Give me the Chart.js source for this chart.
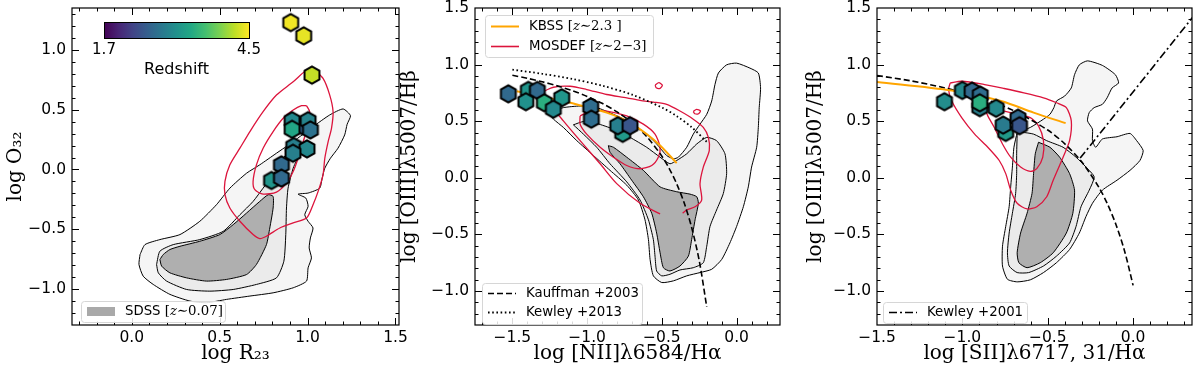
<!DOCTYPE html>
<html>
<head>
<meta charset="utf-8">
<script src="https://cdn.jsdelivr.net/npm/chart.js@4.4.1/dist/chart.umd.min.js"></script>
<style>
    html, body { margin: 0; padding: 0; background: #fff; }
    #fig { position: relative; width: 1200px; height: 380px; }
    .panel { position: absolute; top: 0; height: 380px; }
</style>
</head>
<body>
<div id="fig">
    <div class="panel" style="left:0px;width:410px"><canvas id="c1" width="410" height="380"></canvas></div>
    <div class="panel" style="left:398px;width:392px"><canvas id="c2" width="392" height="380"></canvas></div>
    <div class="panel" style="left:790px;width:410px"><canvas id="c3" width="410" height="380"></canvas></div>
</div>
<script>
// ---- redshift colour scale ----
const zMin = 1.7;
const zMax = 4.5;
const cbarTicks = [1.7, 4.5];
const cbarLabel = 'Redshift';

// ---- tick labels ----
const p1XTicks = [0.0, 0.5, 1.0, 1.5];
const p1YTicks = [-1.0, -0.5, 0.0, 0.5, 1.0];
const p2XTicks = [-1.5, -1.0, -0.5, 0.0];
const p2YTicks = [-1.0, -0.5, 0.0, 0.5, 1.0, 1.5];
const p3XTicks = [-1.5, -1.0, -0.5, 0.0];
const p3YTicks = [-1.0, -0.5, 0.0, 0.5, 1.0, 1.5];

// ---- panel 1: R23 vs O32 ----
const p1GalR23 = [0.904, 0.978, 1.025, 0.970, 0.912, 1.003, 0.912, 1.016, 0.921, 0.997, 0.917, 0.851, 0.795, 0.851];
const p1GalO32 = [1.228, 1.117, 0.789, 0.367, 0.408, 0.408, 0.336, 0.331, 0.192, 0.172, 0.136, 0.039, -0.092, -0.072];
const p1GalZ   = [4.45, 4.4, 4.25, 2.6, 3.0, 2.95, 3.35, 2.75, 2.9, 3.0, 2.9, 2.65, 3.15, 2.65];

const p1SdssOuter = [[0.047,-0.711],[0.075,-0.628],[0.160,-0.586],[0.274,-0.544],[0.387,-0.433],[0.482,-0.294],
    [0.558,-0.156],[0.653,-0.031],[0.728,0.039],[0.823,0.136],[0.918,0.233],[1.031,0.358],[1.126,0.456],[1.202,0.506],
    [1.244,0.450],[1.225,0.378],[1.211,0.289],[1.173,0.178],[1.130,0.094],[1.098,0.011],[1.083,-0.072],[1.069,-0.156],
    [1.003,-0.197],[0.946,-0.206],[0.990,-0.239],[1.003,-0.308],[0.984,-0.378],[1.003,-0.433],[1.031,-0.489],
    [1.016,-0.572],[1.009,-0.656],[1.022,-0.739],[1.003,-0.822],[0.994,-0.933],[0.918,-0.989],[0.804,-1.031],
    [0.672,-1.058],[0.539,-1.086],[0.425,-1.114],[0.331,-1.100],[0.217,-1.044],[0.122,-0.961],[0.065,-0.892],[0.041,-0.794]];
const p1SdssMid = [[0.141,-0.794],[0.160,-0.683],[0.236,-0.628],[0.387,-0.586],[0.520,-0.517],[0.615,-0.378],
    [0.690,-0.267],[0.747,-0.156],[0.804,-0.044],[0.861,0.094],[0.918,0.178],[0.956,0.150],[0.918,0.011],[0.889,-0.156],
    [0.880,-0.322],[0.876,-0.544],[0.865,-0.767],[0.823,-0.906],[0.709,-0.961],[0.577,-1.003],[0.444,-1.017],
    [0.312,-1.003],[0.198,-0.933],[0.151,-0.864]];
const p1SdssInner = [[0.160,-0.753],[0.179,-0.711],[0.217,-0.669],[0.274,-0.642],[0.387,-0.600],[0.501,-0.544],
    [0.577,-0.461],[0.653,-0.364],[0.728,-0.267],[0.776,-0.211],[0.804,-0.225],[0.804,-0.322],[0.785,-0.489],
    [0.766,-0.628],[0.709,-0.794],[0.653,-0.878],[0.539,-0.919],[0.425,-0.933],[0.312,-0.906],[0.217,-0.864],[0.170,-0.808]];
const p1MosdefOuter = [[1.031,0.844],[1.088,0.761],[1.126,0.622],[1.145,0.483],[1.136,0.344],[1.117,0.233],[1.098,0.094],
    [1.088,-0.044],[1.060,-0.183],[1.031,-0.294],[0.994,-0.406],[0.918,-0.447],[0.842,-0.489],[0.766,-0.558],
    [0.728,-0.578],[0.690,-0.544],[0.615,-0.433],[0.558,-0.322],[0.530,-0.211],[0.530,-0.100],[0.558,0.039],
    [0.615,0.178],[0.672,0.317],[0.747,0.483],[0.823,0.622],[0.918,0.733],[0.994,0.831]];
const p1MosdefInner = [[0.994,0.533],[1.012,0.483],[1.003,0.372],[0.975,0.233],[0.946,0.094],[0.918,-0.017],
    [0.880,-0.114],[0.823,-0.189],[0.747,-0.206],[0.700,-0.169],[0.690,-0.100],[0.709,0.039],[0.747,0.178],
    [0.804,0.317],[0.861,0.428],[0.918,0.497],[0.965,0.533]];

// ---- panel 2: [NII] BPT ----
const p2GalN2 = [-1.527, -1.393, -1.333, -1.410, -1.286, -1.170, -1.226, -0.976, -0.972, -0.762, -0.795, -0.713];
const p2GalO3 = [0.742, 0.772, 0.772, 0.672, 0.663, 0.707, 0.606, 0.626, 0.518, 0.393, 0.460, 0.460];
const p2GalZ  = [2.65, 3.15, 2.65, 3.1, 3.45, 3.15, 3.0, 2.7, 2.7, 3.2, 2.9, 2.45];

const kauffX = [-1.5, -1.4, -1.3, -1.2, -1.1, -1.0, -0.9, -0.8, -0.7, -0.6, -0.5, -0.45, -0.4, -0.35, -0.3, -0.25, -0.2];
const kauffY = [0.906, 0.879, 0.848, 0.812, 0.770, 0.719, 0.658, 0.582, 0.487, 0.362, 0.191, 0.080, -0.056, -0.225, -0.443, -0.733, -1.140];
const kew13X = [-1.5, -1.3, -1.1, -0.9, -0.7, -0.5, -0.4, -0.3, -0.2];
const kew13Y = [0.955, 0.919, 0.873, 0.814, 0.735, 0.621, 0.544, 0.446, 0.318];
const kbssN2X = [-1.471, -1.315, -1.159, -1.003, -0.869, -0.735, -0.602, -0.512, -0.401];
const kbssN2Y = [0.765, 0.722, 0.678, 0.625, 0.576, 0.503, 0.387, 0.285, 0.130];

const p2SdssOuter = [[-1.259,0.576],[-1.159,0.620],[-1.047,0.634],[-0.936,0.620],[-0.824,0.561],[-0.713,0.488],
    [-0.602,0.386],[-0.535,0.299],[-0.468,0.197],[-0.423,0.168],[-0.390,0.182],[-0.334,0.270],[-0.290,0.386],
    [-0.245,0.474],[-0.200,0.561],[-0.167,0.678],[-0.145,0.824],[-0.122,0.926],[-0.067,0.998],[0.000,1.013],
    [0.089,0.969],[0.145,0.926],[0.160,0.794],[0.151,0.620],[0.145,0.445],[0.134,0.270],[0.100,0.095],[0.078,-0.080],
    [0.045,-0.255],[0.000,-0.429],[-0.045,-0.575],[-0.100,-0.721],[-0.167,-0.808],[-0.245,-0.837],[-0.334,-0.866],
    [-0.423,-0.910],[-0.501,-0.925],[-0.557,-0.866],[-0.579,-0.721],[-0.590,-0.546],[-0.613,-0.371],[-0.657,-0.196],
    [-0.735,-0.065],[-0.847,0.066],[-0.958,0.197],[-1.069,0.328],[-1.159,0.445],[-1.225,0.518]];
const p2SdssMid = [[-1.092,0.468],[-1.025,0.497],[-0.936,0.480],[-0.824,0.430],[-0.713,0.357],[-0.602,0.270],
    [-0.512,0.182],[-0.446,0.124],[-0.401,0.153],[-0.334,0.212],[-0.267,0.299],[-0.200,0.357],[-0.134,0.328],
    [-0.078,0.212],[-0.067,0.037],[-0.089,-0.138],[-0.134,-0.284],[-0.178,-0.429],[-0.200,-0.604],[-0.223,-0.750],
    [-0.290,-0.794],[-0.379,-0.814],[-0.446,-0.852],[-0.501,-0.866],[-0.535,-0.823],[-0.546,-0.692],[-0.557,-0.546],
    [-0.590,-0.371],[-0.646,-0.196],[-0.735,-0.036],[-0.847,0.124],[-0.936,0.270],[-1.025,0.386]];
const p2SdssInner = [[-0.858,0.284],[-0.824,0.270],[-0.735,0.182],[-0.624,0.066],[-0.512,-0.080],[-0.401,-0.123],
    [-0.312,-0.144],[-0.267,-0.167],[-0.256,-0.225],[-0.278,-0.371],[-0.301,-0.546],[-0.323,-0.692],[-0.379,-0.779],
    [-0.446,-0.823],[-0.490,-0.794],[-0.512,-0.662],[-0.535,-0.488],[-0.568,-0.313],[-0.624,-0.167],[-0.702,-0.021],
    [-0.780,0.124],[-0.847,0.226]];
const p2MosdefOuter = [[-0.512,-0.319],[-0.646,-0.225],[-0.802,-0.051],[-0.913,0.124],[-1.047,0.328],[-1.159,0.503],
    [-1.248,0.649],[-1.292,0.751],[-1.225,0.800],[-1.114,0.809],[-1.003,0.780],[-0.869,0.736],[-0.735,0.707],
    [-0.646,0.684],[-0.557,0.669],[-0.468,0.649],[-0.379,0.590],[-0.290,0.518],[-0.223,0.445],[-0.189,0.357],
    [-0.183,0.241],[-0.223,0.095],[-0.245,-0.051],[-0.234,-0.196],[-0.278,-0.255],[-0.334,-0.284],[-0.361,-0.313]];
const p2MosdefInner = [[-1.047,0.547],[-0.980,0.590],[-0.869,0.590],[-0.735,0.547],[-0.624,0.474],[-0.546,0.386],
    [-0.512,0.270],[-0.524,0.182],[-0.568,0.109],[-0.646,0.080],[-0.735,0.109],[-0.824,0.182],[-0.913,0.270],
    [-1.003,0.386],[-1.047,0.474]];
const p2MosdefIslandA = [[-0.545,0.820],[-0.520,0.840],[-0.497,0.818],[-0.512,0.790],[-0.538,0.795]];
const p2MosdefIslandB = [[-0.290,0.585],[-0.268,0.605],[-0.242,0.592],[-0.255,0.566],[-0.280,0.566]];

// ---- panel 3: [SII] BPT ----
const p3GalS2 = [-1.105, -1.000, -0.943, -0.895, -0.898, -0.898, -0.802, -0.746, -0.761, -0.674, -0.665];
const p3GalO3 = [0.672, 0.772, 0.766, 0.731, 0.620, 0.663, 0.614, 0.401, 0.466, 0.527, 0.460];
const p3GalZ  = [3.05, 3.0, 2.65, 2.7, 2.9, 3.45, 3.0, 3.2, 2.85, 2.65, 2.45];

const kew01S2X = [-1.5, -1.3, -1.1, -0.9, -0.7, -0.5, -0.4, -0.3, -0.2, -0.15, -0.1, -0.05, 0.0];
const kew01S2Y = [0.904, 0.856, 0.793, 0.710, 0.594, 0.422, 0.300, 0.139, -0.085, -0.232, -0.414, -0.646, -0.950];
const linerX = [-0.31, 0.35];
const linerY = [0.174, 1.42];
const kbssS2X = [-1.5, -1.062, -0.774, -0.583, -0.395];
const kbssS2Y = [0.847, 0.771, 0.678, 0.576, 0.483];

const p3SdssOuter = [[-0.679,0.401],[-0.602,0.445],[-0.525,0.518],[-0.487,0.561],[-0.464,0.620],[-0.449,0.678],
    [-0.401,0.722],[-0.362,0.794],[-0.343,0.911],[-0.315,0.998],[-0.267,1.033],[-0.180,0.993],[-0.104,0.911],
    [-0.085,0.838],[-0.123,0.794],[-0.152,0.707],[-0.180,0.649],[-0.228,0.620],[-0.257,0.576],[-0.267,0.503],
    [-0.238,0.430],[-0.238,0.328],[-0.219,0.270],[-0.180,0.343],[-0.094,0.363],[-0.018,0.392],[0.021,0.328],
    [0.059,0.241],[0.040,0.153],[-0.018,0.066],[-0.094,-0.021],[-0.180,-0.109],[-0.238,-0.225],[-0.276,-0.342],
    [-0.315,-0.488],[-0.372,-0.633],[-0.449,-0.750],[-0.525,-0.837],[-0.602,-0.901],[-0.679,-0.919],[-0.736,-0.896],
    [-0.765,-0.779],[-0.765,-0.604],[-0.746,-0.429],[-0.726,-0.255],[-0.717,-0.080],[-0.707,0.095],[-0.698,0.270]];
const p3SdssMid = [[-0.679,0.386],[-0.650,0.401],[-0.583,0.386],[-0.506,0.328],[-0.410,0.270],[-0.334,0.182],
    [-0.276,0.095],[-0.228,0.008],[-0.257,-0.109],[-0.305,-0.255],[-0.334,-0.429],[-0.372,-0.575],[-0.449,-0.692],
    [-0.525,-0.779],[-0.612,-0.837],[-0.679,-0.837],[-0.726,-0.779],[-0.736,-0.662],[-0.726,-0.488],[-0.707,-0.313],
    [-0.688,-0.138],[-0.682,0.037],[-0.682,0.212]];
const p3SdssInner = [[-0.554,0.314],[-0.487,0.270],[-0.430,0.182],[-0.372,0.037],[-0.343,-0.109],[-0.353,-0.313],
    [-0.391,-0.488],[-0.468,-0.662],[-0.544,-0.750],[-0.621,-0.794],[-0.669,-0.750],[-0.679,-0.662],[-0.659,-0.488],
    [-0.621,-0.313],[-0.592,-0.138],[-0.583,0.037],[-0.573,0.212]];
const p3MosdefOuter = [[-1.071,0.838],[-1.004,0.853],[-0.870,0.824],[-0.755,0.789],[-0.640,0.751],[-0.525,0.707],
    [-0.449,0.663],[-0.391,0.620],[-0.362,0.503],[-0.372,0.328],[-0.410,0.182],[-0.468,-0.021],[-0.506,-0.167],
    [-0.564,-0.255],[-0.621,-0.275],[-0.679,-0.225],[-0.717,-0.109],[-0.746,0.037],[-0.784,0.153],[-0.851,0.270],
    [-0.928,0.386],[-1.004,0.532],[-1.062,0.678],[-1.081,0.780]];
const p3MosdefInner = [[-0.870,0.620],[-0.832,0.620],[-0.755,0.590],[-0.679,0.561],[-0.602,0.532],[-0.554,0.459],
    [-0.525,0.328],[-0.529,0.182],[-0.564,0.081],[-0.602,0.057],[-0.659,0.095],[-0.717,0.182],[-0.765,0.299],
    [-0.813,0.445],[-0.851,0.547]];

// ---- styles ----
const SDSS_OUT = '#f5f5f5';
const SDSS_MID = '#ebebeb';
const SDSS_IN = '#afafaf';
const RED = '#dc143c';
const ORANGE = '#ffa500';
const VIRIDIS = ['#440154', '#482475', '#414487', '#355f8d', '#2a788e', '#21918c',
                 '#22a884', '#44bf70', '#7ad151', '#bddf26', '#fde725'];

function hexToRgb(h) {
    return [1, 3, 5].map(i => parseInt(h.substr(i, 2), 16));
}

function viridis(z) {
    let t = (z - zMin) / (zMax - zMin);
    t = Math.min(1, Math.max(0, t)) * (VIRIDIS.length - 1);
    const i = Math.min(Math.floor(t), VIRIDIS.length - 2);
    const f = t - i;
    const a = hexToRgb(VIRIDIS[i]), b = hexToRgb(VIRIDIS[i + 1]);
    const c = a.map((v, k) => Math.round(v + (b[k] - v) * f));
    return `rgb(${c[0]},${c[1]},${c[2]})`;
}

// hexagon marker (matplotlib 'h'), drawn once per colour
function hexImage(color) {
    const size = 24, r = 8.6, c = document.createElement('canvas');
    c.width = c.height = size;
    const g = c.getContext('2d');
    g.beginPath();
    for (let i = 0; i < 6; i++) {
        const a = Math.PI / 2 + i * Math.PI / 3;
        const px = size / 2 + r * Math.cos(a), py = size / 2 - r * Math.sin(a);
        if (i === 0) g.moveTo(px, py); else g.lineTo(px, py);
    }
    g.closePath();
    g.fillStyle = color;
    g.fill();
    g.lineWidth = 2;
    g.lineJoin = 'miter';
    g.strokeStyle = '#000';
    g.stroke();
    return c;
}

const toPts = arr => arr.map(p => ({x: p[0], y: p[1]}));
const closed = arr => toPts(arr.concat([arr[0]]));
const zipPts = (xs, ys) => xs.map((x, i) => ({x: x, y: ys[i]}));

function contour(arr, fillColor, order) {
    return {
        type: 'line', data: closed(arr), borderColor: '#000', borderWidth: 1,
        backgroundColor: fillColor, fill: 'shape', pointRadius: 0, tension: 0.2, order: order
    };
}

function redContour(arr, isClosed, order) {
    return {
        type: 'line', data: isClosed ? closed(arr) : toPts(arr), borderColor: RED, borderWidth: 1.3,
        fill: false, pointRadius: 0, tension: 0.25, order: order
    };
}

function curve(xs, ys, color, width, dash, order) {
    return {
        type: 'line', data: zipPts(xs, ys), borderColor: color, borderWidth: width,
        borderDash: dash, fill: false, pointRadius: 0, tension: 0.3, order: order
    };
}

function galaxies(xs, ys, zs) {
    const imgs = zs.map(z => hexImage(viridis(z)));
    return {
        type: 'scatter', data: zipPts(xs, ys), pointStyle: ctx => imgs[ctx.dataIndex],
        pointRadius: 8, borderWidth: 0, order: 0
    };
}

function steps(r) {
    const out = [];
    for (let v = r.from; v <= r.to + 1e-9; v += r.step) out.push(Math.round(v * 100) / 100);
    return out;
}

const fmtTick = v => v.toFixed(1).replace('-', '\u2212');

// inward ticks on all four sides + frame
const frameTicks = {
    id: 'frameTicks',
    afterDatasetsDraw(chart, args, o) {
        const {ctx, chartArea: a} = chart;
        const sx = chart.scales.x, sy = chart.scales.y;
        ctx.save();
        ctx.strokeStyle = '#000';
        ctx.lineWidth = 1;
        ctx.beginPath();
        const markX = (v, len) => {
            const p = Math.round(sx.getPixelForValue(v)) + 0.5;
            if (p <= a.left + 1 || p >= a.right - 1) return;
            ctx.moveTo(p, a.bottom); ctx.lineTo(p, a.bottom - len);
            ctx.moveTo(p, a.top); ctx.lineTo(p, a.top + len);
        };
        const markY = (v, len) => {
            const p = Math.round(sy.getPixelForValue(v)) + 0.5;
            if (p <= a.top + 1 || p >= a.bottom - 1) return;
            ctx.moveTo(a.left, p); ctx.lineTo(a.left + len, p);
            ctx.moveTo(a.right, p); ctx.lineTo(a.right - len, p);
        };
        steps(o.xMinor).forEach(v => markX(v, 3.5));
        o.xMajor.forEach(v => markX(v, 7));
        steps(o.yMinor).forEach(v => markY(v, 3.5));
        o.yMajor.forEach(v => markY(v, 7));
        ctx.stroke();
        ctx.lineWidth = 1.2;
        ctx.strokeRect(a.left, a.top, a.right - a.left, a.bottom - a.top);
        ctx.restore();
    }
};

const FONT = {
    s: '13.3px "DejaVu Sans"',
    m: '13.3px "DejaVu Serif"',
    i: 'italic 13.3px "DejaVu Serif"'
};

function drawRich(ctx, segs, x, y) {
    ctx.textBaseline = 'middle';
    ctx.textAlign = 'left';
    ctx.fillStyle = '#000';
    segs.forEach(([t, f]) => {
        ctx.font = FONT[f];
        ctx.fillText(t, x, y);
        x += ctx.measureText(t).width;
    });
}

function roundRect(ctx, x, y, w, h, r) {
    ctx.beginPath();
    ctx.moveTo(x + r, y);
    ctx.arcTo(x + w, y, x + w, y + h, r);
    ctx.arcTo(x + w, y + h, x, y + h, r);
    ctx.arcTo(x, y + h, x, y, r);
    ctx.arcTo(x, y, x + w, y, r);
    ctx.closePath();
}

// legends boxed inside the axes, plus the colour bar
const boxLegends = {
    id: 'boxLegends',
    afterDraw(chart, args, o) {
        const ctx = chart.ctx;
        ctx.save();
        (o.boxes || []).forEach(b => {
            roundRect(ctx, b.x + 0.5, b.y + 0.5, b.w, b.h, 3);
            ctx.fillStyle = 'rgba(255,255,255,0.85)';
            ctx.fill();
            ctx.strokeStyle = '#d6d6d6';
            ctx.lineWidth = 1;
            ctx.stroke();
            b.items.forEach((it, k) => {
                const yy = b.y + b.first + k * b.gap;
                const x0 = b.x + 6;
                if (it.patch) {
                    ctx.fillStyle = it.patch;
                    ctx.fillRect(x0, yy - 4.5, 28, 9);
                } else {
                    ctx.beginPath();
                    ctx.strokeStyle = it.color;
                    ctx.lineWidth = it.width;
                    ctx.setLineDash(it.dash || []);
                    ctx.moveTo(x0, yy);
                    ctx.lineTo(x0 + 28, yy);
                    ctx.stroke();
                    ctx.setLineDash([]);
                }
                drawRich(ctx, it.segs, x0 + 38, yy);
            });
        });
        const cb = o.colorbar;
        if (cb) {
            const g = ctx.createLinearGradient(cb.x, 0, cb.x + cb.w, 0);
            VIRIDIS.forEach((c, i) => g.addColorStop(i / (VIRIDIS.length - 1), c));
            ctx.fillStyle = g;
            ctx.fillRect(cb.x, cb.y, cb.w, cb.h);
            ctx.strokeStyle = '#000';
            ctx.lineWidth = 1;
            ctx.strokeRect(cb.x + 0.5, cb.y + 0.5, cb.w, cb.h);
            ctx.fillStyle = '#000';
            ctx.textAlign = 'center';
            ctx.textBaseline = 'middle';
            ctx.font = '15px "DejaVu Sans"';
            cbarTicks.forEach(t => {
                const px = cb.x + (t - zMin) / (zMax - zMin) * cb.w;
                ctx.fillText(t.toFixed(1), px, cb.y + cb.h + 12);
            });
            ctx.font = '16px "DejaVu Sans"';
            ctx.fillText(cbarLabel, cb.x + cb.w / 2, cb.y + cb.h + 32);
        }
        ctx.restore();
    }
};

function makePanel(id, p) {
    return new Chart(document.getElementById(id), {
        type: 'scatter',
        data: {datasets: p.datasets},
        plugins: [frameTicks, boxLegends],
        options: {
            responsive: false,
            animation: false,
            events: [],
            layout: {padding: {top: 6, right: p.padRight, left: 0, bottom: 0}},
            plugins: {
                legend: {display: false},
                tooltip: {enabled: false},
                frameTicks: p.ticks,
                boxLegends: {boxes: p.boxes, colorbar: p.colorbar}
            },
            scales: {
                x: {
                    type: 'linear', min: p.xMin, max: p.xMax,
                    grid: {display: false, drawTicks: false}, border: {display: false},
                    afterBuildTicks: s => { s.ticks = p.ticks.xMajor.map(v => ({value: v})); },
                    afterFit: s => { s.height = 55; s.paddingLeft = 0; s.paddingRight = 0; },
                    ticks: {
                        callback: fmtTick, autoSkip: false, maxRotation: 0, padding: 4, color: '#000',
                        font: {family: 'DejaVu Sans', size: 15.5}
                    },
                    title: {
                        display: true, text: p.xTitle, color: '#000',
                        font: {family: 'DejaVu Serif', size: 20}, padding: {top: 0, bottom: 14}
                    }
                },
                y: {
                    type: 'linear', min: p.yMin, max: p.yMax,
                    grid: {display: false, drawTicks: false}, border: {display: false},
                    afterBuildTicks: s => { s.ticks = p.ticks.yMajor.map(v => ({value: v})); },
                    afterFit: s => { s.width = p.yWidth; s.paddingTop = 0; s.paddingBottom = 0; },
                    ticks: {
                        callback: fmtTick, autoSkip: false, padding: 6, color: '#000',
                        font: {family: 'DejaVu Sans', size: 15.5}
                    },
                    title: {
                        display: true, text: p.yTitle, color: '#000',
                        font: {family: 'DejaVu Serif', size: 20}, padding: {top: p.yTitlePad, bottom: 0}
                    }
                }
            }
        }
    });
}

// panel 1
makePanel('c1', {
    xMin: -0.34, xMax: 1.52, yMin: -1.3, yMax: 1.35,
    yWidth: 72, padRight: 11, yTitlePad: 4,
    xTitle: 'log R\u2082\u2083', yTitle: 'log O\u2083\u2082',
    ticks: {xMajor: p1XTicks, yMajor: p1YTicks, xMinor: {from: -0.3, to: 1.5, step: 0.1}, yMinor: {from: -1.3, to: 1.3, step: 0.1}},
    datasets: [
        galaxies(p1GalR23, p1GalO32, p1GalZ),
        redContour(p1MosdefOuter, true, 5),
        redContour(p1MosdefInner, true, 5),
        contour(p1SdssInner, SDSS_IN, 8),
        contour(p1SdssMid, SDSS_MID, 9),
        contour(p1SdssOuter, SDSS_OUT, 10)
    ],
    boxes: [
        {x: 81, y: 301, w: 144, h: 21, first: 10.5, gap: 0, items: [
            {patch: '#a9a9a9', segs: [['SDSS ', 's'], ['[', 'm'], ['z', 'i'], ['\u223c0.07]', 'm']]}
        ]}
    ],
    colorbar: {x: 104, y: 22, w: 145, h: 16}
});

// panel 2
makePanel('c2', {
    xMin: -1.75, xMax: 0.29, yMin: -1.3, yMax: 1.5,
    yWidth: 77, padRight: 10, yTitlePad: 0,
    xTitle: 'log [NII]\u03bb6584/H\u03b1', yTitle: 'log [OIII]\u03bb5007/H\u03b2',
    ticks: {xMajor: p2XTicks, yMajor: p2YTicks, xMinor: {from: -1.7, to: 0.2, step: 0.1}, yMinor: {from: -1.2, to: 1.4, step: 0.1}},
    datasets: [
        galaxies(p2GalN2, p2GalO3, p2GalZ),
        curve(kbssN2X, kbssN2Y, ORANGE, 2, [], 2),
        curve(kauffX, kauffY, '#000', 1.6, [6, 3], 3),
        curve(kew13X, kew13Y, '#000', 1.8, [1.6, 2.6], 3),
        redContour(p2MosdefOuter, false, 5),
        redContour(p2MosdefInner, true, 5),
        redContour(p2MosdefIslandA, true, 5),
        redContour(p2MosdefIslandB, true, 5),
        contour(p2SdssInner, SDSS_IN, 8),
        contour(p2SdssMid, SDSS_MID, 9),
        contour(p2SdssOuter, SDSS_OUT, 10)
    ],
    boxes: [
        {x: 485 - 398, y: 15, w: 168, h: 42, first: 11.5, gap: 20, items: [
            {color: ORANGE, width: 2, segs: [['KBSS ', 's'], ['[', 'm'], ['z', 'i'], ['\u223c2.3 ]', 'm']]},
            {color: RED, width: 1.6, segs: [['MOSDEF ', 's'], ['[', 'm'], ['z', 'i'], ['\u223c2\u22123]', 'm']]}
        ]},
        {x: 482 - 398, y: 283, w: 160, h: 41, first: 10.5, gap: 19, items: [
            {color: '#000', width: 1.6, dash: [6, 3], segs: [['Kauffman +2003', 's']]},
            {color: '#000', width: 1.8, dash: [1.6, 2.6], segs: [['Kewley +2013', 's']]}
        ]}
    ]
});

// panel 3
makePanel('c3', {
    xMin: -1.5, xMax: 0.345, yMin: -1.3, yMax: 1.5,
    yWidth: 87, padRight: 2, yTitlePad: 14,
    xTitle: 'log [SII]\u03bb6717, 31/H\u03b1', yTitle: 'log [OIII]\u03bb5007/H\u03b2',
    ticks: {xMajor: p3XTicks, yMajor: p3YTicks, xMinor: {from: -1.4, to: 0.3, step: 0.1}, yMinor: {from: -1.2, to: 1.4, step: 0.1}},
    datasets: [
        galaxies(p3GalS2, p3GalO3, p3GalZ),
        curve(kbssS2X, kbssS2Y, ORANGE, 2, [], 2),
        curve(kew01S2X, kew01S2Y, '#000', 1.6, [6, 3], 3),
        curve(linerX, linerY, '#000', 1.6, [8, 3, 2, 3], 3),
        redContour(p3MosdefOuter, true, 5),
        redContour(p3MosdefInner, true, 5),
        contour(p3SdssInner, SDSS_IN, 8),
        contour(p3SdssMid, SDSS_MID, 9),
        contour(p3SdssOuter, SDSS_OUT, 10)
    ],
    boxes: [
        {x: 883 - 790, y: 302, w: 144, h: 21, first: 10.5, gap: 0, items: [
            {color: '#000', width: 1.6, dash: [8, 3, 2, 3], segs: [['Kewley +2001', 's']]}
        ]}
    ]
});
</script>
</body>
</html>
